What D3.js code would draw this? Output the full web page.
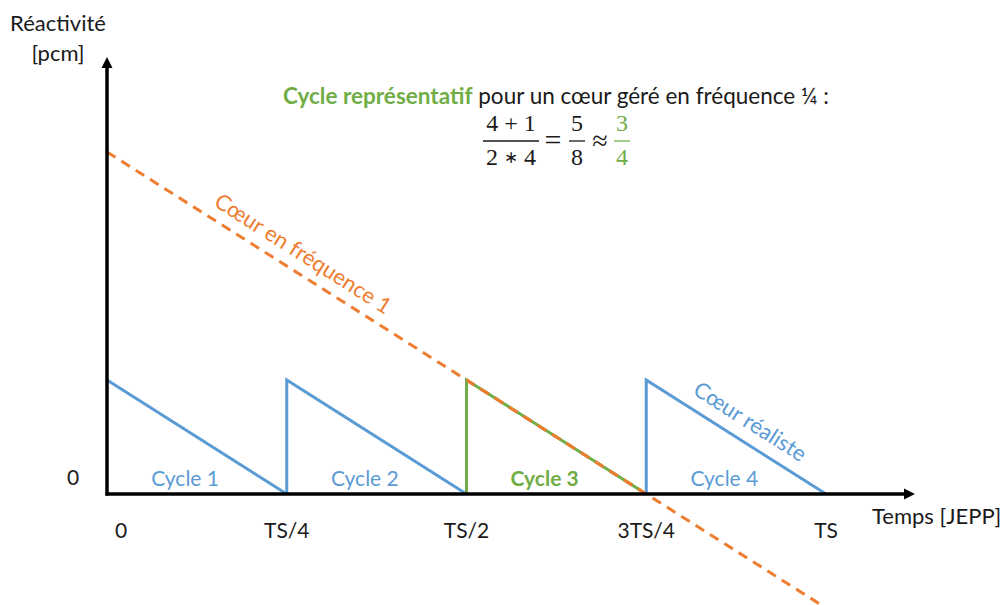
<!DOCTYPE html>
<html>
<head>
<meta charset="utf-8">
<script src="https://cdn.jsdelivr.net/npm/d3@7"></script>
<style>
body { margin: 0; background: #ffffff; }
text { font-family: Lato, "Open Sans", sans-serif; }
</style>
</head>
<body>
<script>
// time in fraction of TS, reactivity in units of the realistic cycle peak
var tickValues = [0, 0.25, 0.5, 0.75, 1];
var tickLabels = ["0", "TS/4", "TS/2", "3TS/4", "TS"];
var cycleNames = ["Cycle 1", "Cycle 2", "Cycle 3", "Cycle 4"];
var cycleStart = [0, 0.25, 0.5, 0.75];
var cyclePeak = [1, 1, 1, 1];
var freq1 = [[0, 3], [1, -1]];

var width = 1005;
var height = 605;
var blue = "#5b9bd5";
var green = "#70ad47";
var orange = "#ed7d31";
var ink = "#1a1a1a";

var svg = d3.select("body")
  .append("svg")
  .attr("width", width)
  .attr("height", height);

var x = d3.scaleLinear().domain([0, 1]).range([107, 826]);
var y = d3.scaleLinear().domain([0, 1]).range([494, 380]);

var defs = svg.append("defs");
defs.append("marker")
  .attr("id", "arrow")
  .attr("viewBox", "0 0 10 10")
  .attr("refX", 2)
  .attr("refY", 5)
  .attr("markerWidth", 3.2)
  .attr("markerHeight", 3.2)
  .attr("orient", "auto")
  .append("path")
  .attr("d", "M0,0 L10,5 L0,10 z")
  .attr("fill", "#000");

var line = d3.line()
  .x(function (d) { return x(d[0]); })
  .y(function (d) { return y(d[1]); });

// orange dashed line (frequency 1)
svg.append("path")
  .attr("d", line(freq1))
  .attr("fill", "none")
  .attr("stroke", orange)
  .attr("stroke-width", 3)
  .attr("stroke-dasharray", "10 7");

// realistic sawtooth cycles
cycleStart.forEach(function (s, i) {
  var pts = [[s, 0], [s, cyclePeak[i]], [s + 0.25, 0]];
  if (i == 0) {
    pts = pts.slice(1);
  }
  svg.append("path")
    .attr("d", line(pts))
    .attr("fill", "none")
    .attr("stroke", i == 2 ? green : blue)
    .attr("stroke-width", 3)
    .attr("stroke-linejoin", "miter");
});

// orange dashes stay visible over the green cycle
svg.append("path")
  .attr("d", line(freq1))
  .attr("fill", "none")
  .attr("stroke", orange)
  .attr("stroke-width", 3)
  .attr("stroke-dasharray", "10 7")
  .attr("clip-path", "url(#c3)");
defs.append("clipPath")
  .attr("id", "c3")
  .append("rect")
  .attr("x", x(0.5)).attr("y", 0)
  .attr("width", x(0.75) - x(0.5)).attr("height", y(0));

// axes
svg.append("line")
  .attr("x1", x(0) - 1.5).attr("y1", y(0))
  .attr("x2", 906).attr("y2", y(0))
  .attr("stroke", "#000")
  .attr("stroke-width", 3.5)
  .attr("marker-end", "url(#arrow)");
svg.append("line")
  .attr("x1", x(0)).attr("y1", y(0) + 1.5)
  .attr("x2", x(0)).attr("y2", 66)
  .attr("stroke", "#000")
  .attr("stroke-width", 3.5)
  .attr("marker-end", "url(#arrow)");

// tick labels
svg.selectAll("text.tick")
  .data(tickValues)
  .enter()
  .append("text")
  .attr("class", "tick")
  .attr("x", function (d, i) { return i == 0 ? x(d) + 14 : x(d); })
  .attr("y", 538)
  .attr("text-anchor", "middle")
  .attr("font-size", 21)
  .attr("fill", ink)
  .text(function (d, i) { return tickLabels[i]; });

svg.append("text")
  .attr("x", 73).attr("y", 485)
  .attr("text-anchor", "middle")
  .attr("font-size", 21)
  .attr("fill", ink)
  .text("0");

svg.append("text")
  .attr("x", 872).attr("y", 524)
  .attr("font-size", 22)
  .attr("fill", ink)
  .text("Temps [JEPP]");

svg.append("text")
  .attr("x", 58).attr("y", 31)
  .attr("text-anchor", "middle")
  .attr("font-size", 22)
  .attr("fill", ink)
  .text("Réactivité");
svg.append("text")
  .attr("x", 58).attr("y", 61)
  .attr("text-anchor", "middle")
  .attr("font-size", 22)
  .attr("fill", ink)
  .text("[pcm]");

// cycle labels
svg.selectAll("text.cycle")
  .data(cycleNames)
  .enter()
  .append("text")
  .attr("class", "cycle")
  .attr("x", function (d, i) { return x(cycleStart[i] + 0.11) - 1; })
  .attr("y", 486)
  .attr("text-anchor", "middle")
  .attr("font-size", 21)
  .attr("font-weight", function (d, i) { return i == 2 ? "bold" : "normal"; })
  .attr("fill", function (d, i) { return i == 2 ? green : blue; })
  .text(function (d) { return d; });

// rotated labels along lines
var ang1 = Math.atan2(y(-1) - y(3), x(1) - x(0)) * 180 / Math.PI;
svg.append("text")
  .attr("transform", "translate(" + 299 + "," + 260 + ") rotate(" + ang1 + ")")
  .attr("text-anchor", "middle")
  .attr("font-size", 22)
  .attr("fill", orange)
  .text("Cœur en fréquence 1");

var ang2 = Math.atan2(y(0) - y(1), x(0.25) - x(0)) * 180 / Math.PI;
svg.append("text")
  .attr("transform", "translate(" + 746 + "," + 428 + ") rotate(" + ang2 + ")")
  .attr("text-anchor", "middle")
  .attr("font-size", 22)
  .attr("fill", blue)
  .text("Cœur réaliste");

// title
var title = svg.append("text")
  .attr("x", 283).attr("y", 104)
  .attr("font-size", 22.5)
  .attr("fill", ink);
title.append("tspan")
  .attr("font-weight", "bold")
  .attr("fill", green)
  .text("Cycle représentatif");
title.append("tspan")
  .text(" pour un cœur géré en fréquence ¼ :");

// formula
var math = svg.append("g")
  .attr("font-size", 24)
  .attr("fill", ink)
  .style("font-family", "'Liberation Serif', serif");
function frac(cx, num, den, col, half) {
  math.append("text")
    .attr("x", cx).attr("y", 131)
    .attr("text-anchor", "middle")
    .attr("fill", col)
    .style("font-family", "'Liberation Serif', serif")
    .text(num);
  math.append("line")
    .attr("x1", cx - half).attr("x2", cx + half)
    .attr("y1", 141).attr("y2", 141)
    .attr("stroke", col)
    .attr("stroke-width", 1.3);
  var t = math.append("text")
    .attr("x", cx).attr("y", 165)
    .attr("text-anchor", "middle")
    .attr("fill", col)
    .style("font-family", "'Liberation Serif', serif");
  if (den.length > 1) {
    t.append("tspan").text(den[0] + " ");
    t.append("tspan").attr("font-size", 17).attr("dy", -2).text("∗");
    t.append("tspan").attr("dy", 2).text(" " + den[1]);
  } else {
    t.text(den[0]);
  }
}
frac(511, "4 + 1", ["2", "4"], ink, 28);
math.append("text")
  .attr("x", 553).attr("y", 150)
  .attr("text-anchor", "middle")
  .attr("font-size", 30)
  .style("font-family", "'Liberation Serif', serif")
  .text("=");
frac(577, "5", ["8"], ink, 8);
math.append("text")
  .attr("x", 600).attr("y", 150)
  .attr("text-anchor", "middle")
  .attr("font-size", 28)
  .style("font-family", "'Liberation Serif', serif")
  .text("≈");
frac(622, "3", ["4"], green, 8);
</script>
</body>
</html>
